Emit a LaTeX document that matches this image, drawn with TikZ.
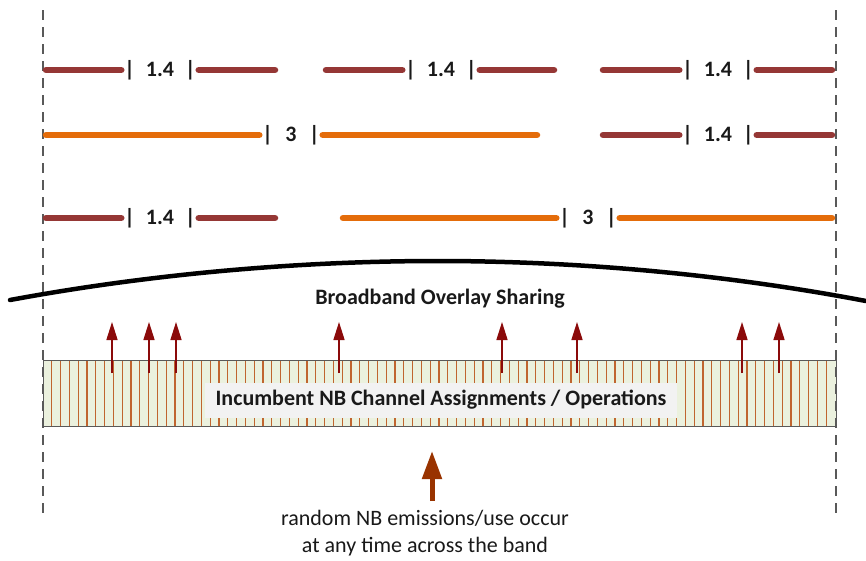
\documentclass[tikz,border=0pt]{standalone}
\usepackage{fontspec}
\setmainfont{Carlito}
\usetikzlibrary{arrows.meta}
\definecolor{barbrown}{HTML}{953735}
\definecolor{barorange}{HTML}{E46C0A}
\definecolor{bandfill}{HTML}{EBF1DE}
\definecolor{hatchc}{HTML}{C0652F}
\definecolor{smallred}{HTML}{8B0A0A}
\definecolor{bigbrown}{HTML}{993300}
\definecolor{guide}{HTML}{595959}
\definecolor{labelbg}{HTML}{F2F2F2}
\newcommand\barlabel[2][11pt]{|\hspace{#1}#2\hspace{#1}|}
\begin{document}
\begin{tikzpicture}[x=1pt,y=-1pt,
  lbl/.style={font=\fontsize{22}{26}\selectfont\bfseries, inner sep=0pt, text=black!90},
  brownbar/.style={line width=6.5pt, barbrown, line cap=round},
  orangebar/.style={line width=6.5pt, barorange, line cap=round},
  guideline/.style={guide, line width=1.8pt, dash pattern=on 10pt off 7pt},
  smallarrow/.style={smallred, line width=1.5pt, -{Triangle[width=11pt,length=18pt]}},
  bigarrow/.style={bigbrown, line width=5pt, -{Triangle[width=19pt,length=28pt]}},
  textnode/.style={font=\fontsize{22}{26}\selectfont, text=black!90, inner sep=0pt}
]
\useasboundingbox (0,0) rectangle (866,560);

% guide lines
\coordinate (gl0) at (43,10); \coordinate (gl1) at (43,520);
\coordinate (gr0) at (836,10); \coordinate (gr1) at (836,520);

% band
\coordinate (bandNW) at (43,360); \coordinate (bandSE) at (836,426);
\fill[bandfill] (bandNW) rectangle (bandSE);
\foreach \k in {1,...,89}{
  \draw[hatchc, line width=1.2pt] ({43+8.8*\k},360) -- ({43+8.8*\k},426);
}
\draw[guide, line width=1pt] (bandNW) rectangle (bandSE);
\node[fill=labelbg, minimum width=472pt, minimum height=35pt, inner sep=0pt] (bandlbl) at (441,400.5) {};
\node[lbl] (bandtext) at (441,400) {Incumbent NB Channel Assignments / Operations};

\draw[guideline] (gl0) -- (gl1);
\draw[guideline] (gr0) -- (gr1);

% Row 1
\node[lbl] (r1a) at (160,70) {\barlabel{1.4}};
\node[lbl] (r1b) at (441,70) {\barlabel{1.4}};
\node[lbl] (r1c) at (718,70) {\barlabel{1.4}};
\coordinate (r1a0) at (46,70);  \coordinate (r1a1) at (275,70);
\coordinate (r1b0) at (326,70); \coordinate (r1b1) at (554,70);
\coordinate (r1c0) at (603,70); \coordinate (r1c1) at (832,70);
\draw[brownbar, shorten >=3pt] (r1a0) -- (r1a.west);
\draw[brownbar, shorten <=3pt] (r1a.east) -- (r1a1);
\draw[brownbar, shorten >=3pt] (r1b0) -- (r1b.west);
\draw[brownbar, shorten <=3pt] (r1b.east) -- (r1b1);
\draw[brownbar, shorten >=3pt] (r1c0) -- (r1c.west);
\draw[brownbar, shorten <=3pt] (r1c.east) -- (r1c1);

% Row 2
\node[lbl] (r2a) at (291,135) {\barlabel[12.5pt]{3}};
\node[lbl] (r2b) at (718,135) {\barlabel{1.4}};
\coordinate (r2a0) at (46,135);  \coordinate (r2a1) at (537,135);
\coordinate (r2b0) at (603,135); \coordinate (r2b1) at (832,135);
\draw[orangebar, shorten >=3pt] (r2a0) -- (r2a.west);
\draw[orangebar, shorten <=3pt] (r2a.east) -- (r2a1);
\draw[brownbar, shorten >=3pt] (r2b0) -- (r2b.west);
\draw[brownbar, shorten <=3pt] (r2b.east) -- (r2b1);

% Row 3
\node[lbl] (r3a) at (160,218) {\barlabel{1.4}};
\node[lbl] (r3b) at (588,218) {\barlabel[12.5pt]{3}};
\coordinate (r3a0) at (46,218);  \coordinate (r3a1) at (275,218);
\coordinate (r3b0) at (343,218); \coordinate (r3b1) at (832,218);
\draw[brownbar, shorten >=3pt] (r3a0) -- (r3a.west);
\draw[brownbar, shorten <=3pt] (r3a.east) -- (r3a1);
\draw[orangebar, shorten >=3pt] (r3b0) -- (r3b.west);
\draw[orangebar, shorten <=3pt] (r3b.east) -- (r3b1);

% Arc
\coordinate (arcL) at (10,300);
\coordinate (arcR) at (866,301);
\draw[black, line width=4.5pt, line cap=round] (arcL) parabola bend (438,261) (arcR);
\node[lbl] (bbo) at (440,299) {Broadband Overlay Sharing};

% small arrows
\foreach \x/\n in {112/a,149/b,176/c,339/d,502/e,577/f,742/g,779/h}{
  \coordinate (sa\n0) at (\x,373);
  \coordinate (sa\n1) at (\x,322);
  \draw[smallarrow] (sa\n0) -- (sa\n1);
}

% big arrow and caption
\node[textnode, align=center] (cap) at (425,533) {random NB emissions/use occur\\[1pt]at any time across the band};
\coordinate (bigtip) at (432,451);
\coordinate (bigbase) at (432,501);
\draw[bigarrow] (bigbase) -- (bigtip);
\end{tikzpicture}
\end{document}
